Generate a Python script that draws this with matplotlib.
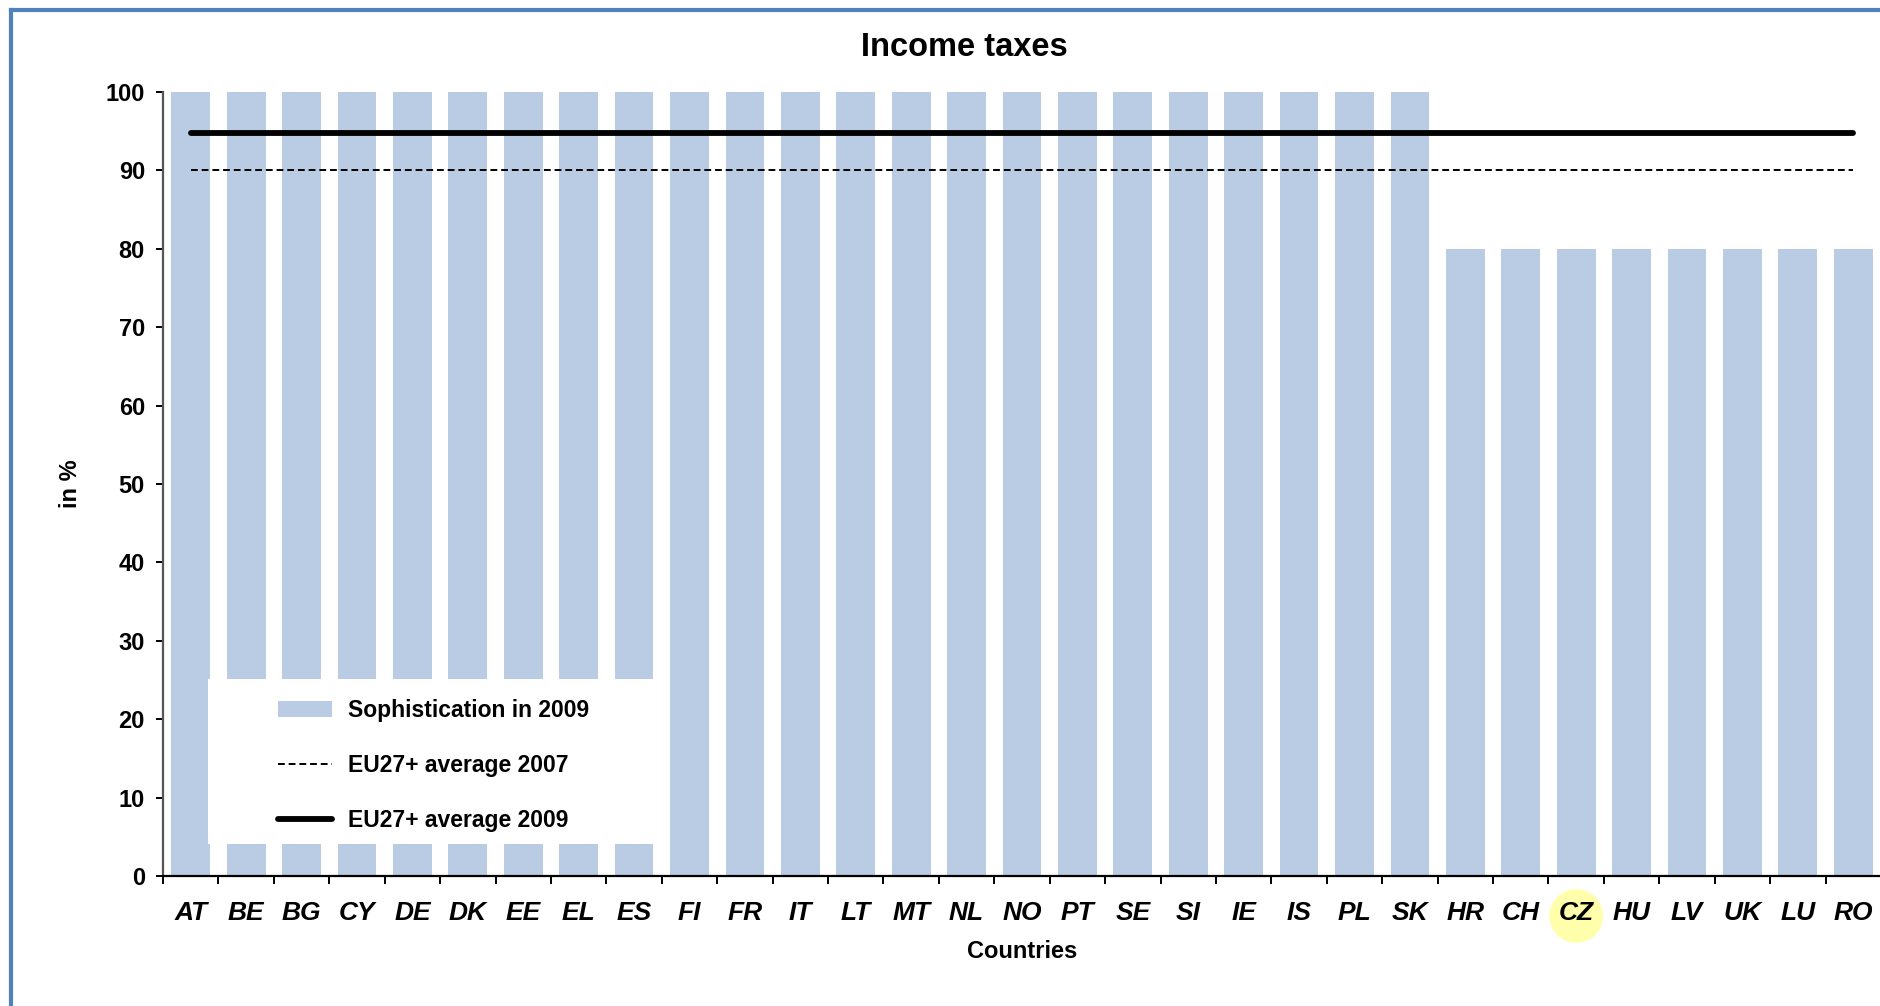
import matplotlib
matplotlib.use("Agg")
import matplotlib.pyplot as plt
from matplotlib.lines import Line2D
from matplotlib.patches import Rectangle
import matplotlib.transforms as mtransforms
import numpy as np

plt.rcParams['font.family'] = ['Liberation Sans', 'DejaVu Sans']

# ---- data ----
countries = ["AT", "BE", "BG", "CY", "DE", "DK", "EE", "EL", "ES", "FI", "FR", "IT",
             "LT", "MT", "NL", "NO", "PT", "SE", "SI", "IE", "IS", "PL", "SK", "HR",
             "CH", "CZ", "HU", "LV", "UK", "LU", "RO"]
sophistication_2009 = [100, 100, 100, 100, 100, 100, 100, 100, 100, 100, 100, 100,
                       100, 100, 100, 100, 100, 100, 100, 100, 100, 100, 100, 80,
                       80, 80, 80, 80, 80, 80, 80]
eu_avg_2007 = 90.0
eu_avg_2009 = 94.8
y_ticks = [0, 10, 20, 30, 40, 50, 60, 70, 80, 90, 100]
highlighted = "CZ"

title = "Income taxes"
x_label = "Countries"
y_label = "in %"
legend_labels = ["Sophistication in 2009", "EU27+ average 2007", "EU27+ average 2009"]

# ---- figure ----
W, H = 1881, 1006
fig = plt.figure(figsize=(W / 100, H / 100), dpi=100)
ax = fig.add_axes([163 / W, 1 - 876 / H, 1 - 163 / W, (876 - 92) / H])

x = np.arange(len(countries))
bars = ax.bar(x, sophistication_2009, width=0.7, color="#B9CCE4", zorder=2,
              label=legend_labels[0])
l07, = ax.plot(x, [eu_avg_2007] * len(x), color="black", lw=1.4,
               linestyle=(0, (3.5, 2)), zorder=3, label=legend_labels[1])
l09, = ax.plot(x, [eu_avg_2009] * len(x), color="black", lw=4.2,
               solid_capstyle="round", zorder=3, label=legend_labels[2])

ax.set_xlim(-0.5, len(countries) - 0.5)
ax.set_ylim(0, 100)

for s in ["top", "right"]:
    ax.spines[s].set_visible(False)
ax.spines["left"].set_color("#555555")
ax.spines["left"].set_linewidth(1.6)
ax.spines["bottom"].set_color("black")
ax.spines["bottom"].set_linewidth(1.6)

ax.set_yticks(y_ticks)
ax.set_yticklabels([str(v) for v in y_ticks], fontsize=17, fontweight="bold")
ax.tick_params(axis="y", direction="out", length=5, width=1.4, pad=8, color="black")

ax.set_xticks(x)
ax.set_xticklabels(countries, fontsize=19, fontweight="bold", fontstyle="italic")
ax.set_xticks(np.arange(len(countries) + 1) - 0.5, minor=True)
ax.tick_params(axis="x", which="major", length=0, pad=18)
ax.tick_params(axis="x", which="minor", direction="out", length=6, width=1.4, color="black")

ax.set_xlabel(x_label, fontsize=17, fontweight="bold", labelpad=11)
ax.set_ylabel(y_label, fontsize=17, fontweight="bold", labelpad=17)

fig.text(964 / W, 1 - 47 / H, title, fontsize=23.5, fontweight="bold",
         ha="center", va="center")

# white legend box
ax.add_patch(Rectangle((0.0262, 0.041), 0.294 - 0.0262, 0.251 - 0.041,
                       transform=ax.transAxes, facecolor="white", edgecolor="none",
                       zorder=4))
leg = ax.legend(handles=[bars, l07, l09], labels=legend_labels,
                loc="center left", bbox_to_anchor=(0.067, 0.141),
                frameon=False, fontsize=16.5, handlelength=2.36, handleheight=0.7,
                handletextpad=0.68, labelspacing=1.38, borderpad=0,
                borderaxespad=0)
for t in leg.get_texts():
    t.set_fontweight("bold")
leg.set_zorder(5)

# highlight circle around one tick label
trans = mtransforms.blended_transform_factory(ax.transData, ax.transAxes)
hi = countries.index(highlighted)
ax.scatter([hi], [-0.051], s=1500, color="#FFFF66", alpha=0.55, edgecolors="none",
           transform=trans, clip_on=False, zorder=0.5)

# blue frame (left and top edges visible)
fig.add_artist(Line2D([11 / W, 11 / W], [0, 1 - 10 / H], transform=fig.transFigure,
                      color="#4F81BD", lw=3))
fig.add_artist(Line2D([11 / W, 1], [1 - 10 / H, 1 - 10 / H], transform=fig.transFigure,
                      color="#4F81BD", lw=3))

fig.savefig("out.png", dpi=100)
